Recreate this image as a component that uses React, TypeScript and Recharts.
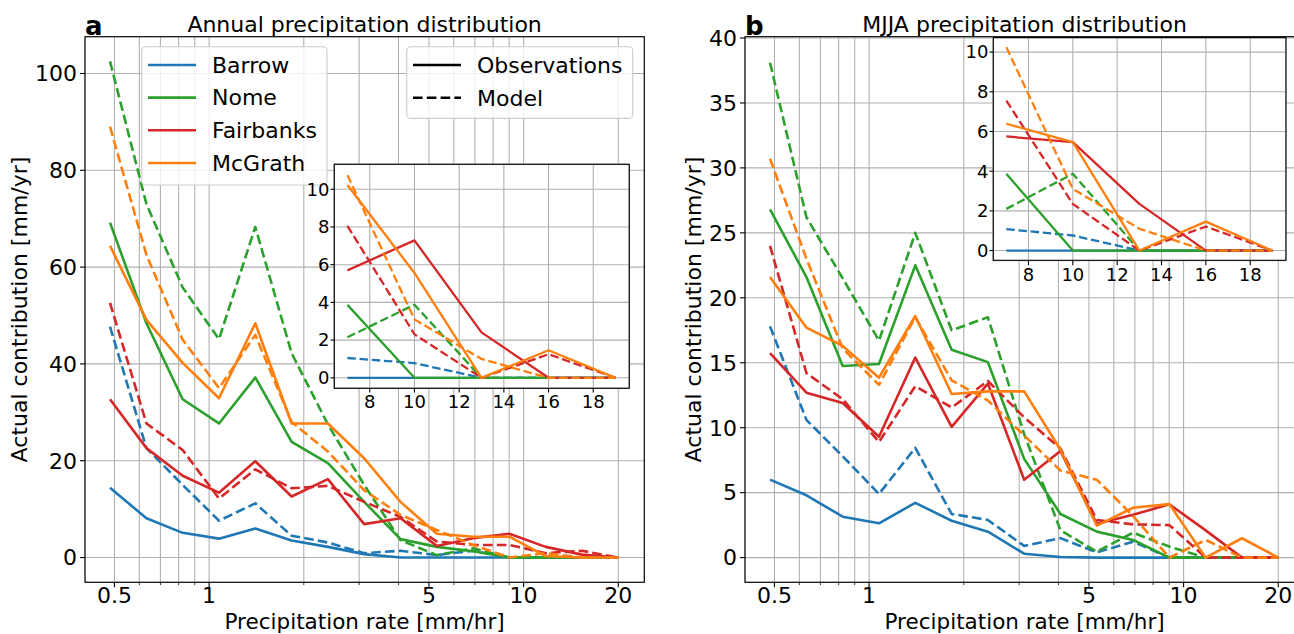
import React from 'react'
import { LineChart, Line, XAxis, YAxis, CartesianGrid } from 'recharts'

const FONT = "'DejaVu Sans', sans-serif"

// precipitation-rate bin centres [mm/hr], shared by both panels
const rates = [0.484, 0.632, 0.824, 1.075, 1.402, 1.83, 2.386, 3.112, 4.06, 5.296, 6.908, 9.011, 11.755, 15.332, 20.0]
// rates shown in the insets
const insetRates = [7, 10, 13, 16, 19]

// a: annual contribution [mm/yr]
const barrowObsA = [14.4, 8.1, 5.1, 3.9, 6.0, 3.5, 2.2, 0.7, 0, 0, 0, 0, 0, 0, 0]
const barrowModA = [47.7, 22.6, 15.0, 7.6, 11.2, 4.5, 3.1, 0.9, 1.4, 0.5, 1.4, 0, 0, 0, 0]
const nomeObsA = [69.2, 48.4, 32.7, 27.7, 37.2, 23.9, 19.5, 11.5, 3.8, 2.2, 1.3, 0, 0, 0, 0]
const nomeModA = [102.5, 73, 55.8, 45.1, 68.3, 42.2, 27.5, 15, 3.6, 0.5, 1.9, 0, 0, 0, 0]
const fairObsA = [32.7, 22.6, 16.9, 13.4, 19.9, 12.6, 16.2, 6.9, 8.1, 2.4, 4.0, 4.9, 2.2, 0.6, 0]
const fairModA = [52.6, 27.7, 22.2, 12.2, 18.2, 14.3, 14.8, 11.5, 8.4, 3.3, 2.6, 2.6, 0.9, 1.4, 0]
const mcgObsA = [64.4, 49.1, 40.2, 32.9, 48.4, 27.7, 27.7, 20.5, 11.5, 4.9, 4.3, 4.3, 0.3, 0, 0]
const mcgModA = [89.0, 62.5, 45, 35, 46, 28, 21.9, 13.9, 8.8, 5.7, 2.6, 0, 0.9, 0, 0]

// a inset
const barrowObsIA = [0, 0, 0, 0, 0]
const barrowModIA = [1.05, 0.78, 0, 0, 0]
const nomeObsIA = [3.87, 0, 0, 0, 0]
const nomeModIA = [2.15, 3.88, 0, 0, 0]
const fairObsIA = [5.7, 7.29, 2.41, 0, 0]
const fairModIA = [8.06, 2.31, 0, 1.25, 0]
const mcgObsIA = [10.23, 5.56, 0, 1.46, 0]
const mcgModIA = [10.75, 3.1, 1.0, 0, 0]

// b: MJJA contribution [mm/yr]
const barrowObsB = [6.0, 4.8, 3.15, 2.64, 4.22, 2.84, 2.0, 0.3, 0.05, 0, 0, 0, 0, 0, 0]
const barrowModB = [17.8, 10.6, 7.8, 4.9, 8.45, 3.36, 2.9, 0.9, 1.5, 0.4, 1.23, 0, 0, 0, 0]
const nomeObsB = [26.8, 21.6, 14.75, 14.9, 22.5, 16.0, 15.05, 7.6, 3.36, 2.0, 1.36, 0, 0, 0, 0]
const nomeModB = [38.1, 26.2, 21.5, 16.7, 25.0, 17.5, 18.5, 9.5, 2.1, 0.46, 1.92, 0.85, 0, 0, 0]
const fairObsB = [15.75, 12.7, 11.9, 9.3, 15.4, 10.06, 13.4, 6.0, 8.2, 2.6, 3.3, 4.1, 2.1, 0, 0]
const fairModB = [24.0, 14.2, 12.2, 8.9, 13.2, 11.55, 13.6, 10.8, 8.4, 2.9, 2.56, 2.5, 0, 0, 0]
const mcgObsB = [21.6, 17.7, 16.3, 13.85, 18.6, 12.6, 12.8, 12.8, 8.3, 2.46, 3.84, 4.12, 0, 1.49, 0]
const mcgModB = [30.7, 23, 16.1, 13.3, 18.5, 13.65, 12.1, 9.4, 6.7, 6.0, 3.2, 0, 1.36, 0, 0]

// b inset
const barrowObsIB = [0, 0, 0, 0, 0]
const barrowModIB = [1.08, 0.76, 0, 0, 0]
const nomeObsIB = [3.87, 0, 0, 0, 0]
const nomeModIB = [2.1, 3.87, 0, 0, 0]
const fairObsIB = [5.75, 5.46, 2.35, 0, 0]
const fairModIB = [7.56, 2.35, 0, 1.21, 0]
const mcgObsIB = [6.39, 5.46, 0, 1.46, 0]
const mcgModIB = [10.25, 3.11, 1.1, 0, 0]

const stations = [
  { key: 'barrow', name: 'Barrow', color: '#1f77b4' },
  { key: 'nome', name: 'Nome', color: '#2ca02c' },
  { key: 'fair', name: 'Fairbanks', color: '#d62728' },
  { key: 'mcg', name: 'McGrath', color: '#ff7f0e' },
]

const xMajor = [0.5, 1, 5, 10, 20]
const xGrid = [0.5, 0.6, 0.7, 0.8, 0.9, 1, 2, 3, 4, 5, 6, 7, 8, 9, 10, 20]
const yTicksA = [0, 20, 40, 60, 80, 100]
const yTicksB = [0, 5, 10, 15, 20, 25, 30, 35, 40]
const insetXTicks = [8, 10, 12, 14, 16, 18]
const insetYTicks = [0, 2, 4, 6, 8, 10]

const buildRows = (x: number[], s: Record<string, number[]>) =>
  x.map((v, i) => {
    const row: any = { x: v }
    Object.keys(s).forEach((k) => (row[k] = s[k][i]))
    return row
  })

const rowsA = buildRows(rates, {
  barrowObs: barrowObsA, barrowMod: barrowModA, nomeObs: nomeObsA, nomeMod: nomeModA,
  fairObs: fairObsA, fairMod: fairModA, mcgObs: mcgObsA, mcgMod: mcgModA,
})
const rowsB = buildRows(rates, {
  barrowObs: barrowObsB, barrowMod: barrowModB, nomeObs: nomeObsB, nomeMod: nomeModB,
  fairObs: fairObsB, fairMod: fairModB, mcgObs: mcgObsB, mcgMod: mcgModB,
})
const rowsIA = buildRows(insetRates, {
  barrowObs: barrowObsIA, barrowMod: barrowModIA, nomeObs: nomeObsIA, nomeMod: nomeModIA,
  fairObs: fairObsIA, fairMod: fairModIA, mcgObs: mcgObsIA, mcgMod: mcgModIA,
})
const rowsIB = buildRows(insetRates, {
  barrowObs: barrowObsIB, barrowMod: barrowModIB, nomeObs: nomeObsIB, nomeMod: nomeModIB,
  fairObs: fairObsIB, fairMod: fairModIB, mcgObs: mcgObsIB, mcgMod: mcgModIB,
})

const renderLines = (width: number, dash: string) =>
  stations.flatMap((s) => [
    <Line key={s.key + 'Obs'} dataKey={s.key + 'Obs'} stroke={s.color} strokeWidth={width}
      dot={false} activeDot={false} isAnimationActive={false} strokeLinejoin="round" />,
    <Line key={s.key + 'Mod'} dataKey={s.key + 'Mod'} stroke={s.color} strokeWidth={width}
      strokeDasharray={dash} dot={false} activeDot={false} isAnimationActive={false} strokeLinejoin="round" />,
  ])

// log axis tick: long tick + label for majors, short tick only for minors
const LogTick = (props: any) => {
  const { x, y, payload } = props
  const major = xMajor.includes(payload.value)
  const y0 = y - 6
  return (
    <g>
      <line x1={x} x2={x} y1={y0} y2={y0 + (major ? 5 : 2.8)} stroke="#000" strokeWidth={major ? 1.1 : 0.8} />
      {major && (
        <text x={x} y={y} dy="0.66em" textAnchor="middle" fill="#000" fontSize={22} fontFamily={FONT}>
          {payload.value}
        </text>
      )}
    </g>
  )
}

function MainPanel({ left, rows, yDomain, yTicks }: any) {
  return (
    <div style={{ position: 'absolute', left, top: 0 }}>
      <LineChart width={660} height={634} data={rows} margin={{ top: 36.7, right: 15.7, bottom: 0, left: 0 }}>
        <CartesianGrid stroke="#b0b0b0" strokeWidth={1.1} />
        <XAxis dataKey="x" type="number" scale="log" domain={[0.403, 24.2]} allowDataOverflow
          ticks={xGrid} interval={0} tickLine={false} axisLine={false} tickSize={5} tickMargin={1}
          height={51.7} tick={(p: any) => <LogTick {...p} />} />
        <YAxis type="number" domain={yDomain} allowDataOverflow ticks={yTicks} interval={0} width={85}
          tickSize={5} tickMargin={3} axisLine={false} tickLine={{ stroke: '#000', strokeWidth: 1.1 }}
          tick={{ fill: '#000', fontSize: 22, fontFamily: FONT }} />
        {renderLines(2.6, '9.6 4.2')}
      </LineChart>
    </div>
  )
}

function InsetPanel({ left, top, w, h, rows, yDomain }: any) {
  return (
    <div style={{ position: 'absolute', left: left - 40, top: top - 10 }}>
      <LineChart width={40 + w + 5} height={10 + h + 35} data={rows} margin={{ top: 10, right: 5, bottom: 0, left: 0 }}>
        <CartesianGrid stroke="#b0b0b0" strokeWidth={1.1} fill="#ffffff" fillOpacity={1} />
        <XAxis dataKey="x" type="number" domain={[6.4, 19.6]} allowDataOverflow ticks={insetXTicks} interval={0}
          height={35} tickSize={4.5} tickMargin={3} axisLine={false} tickLine={{ stroke: '#000', strokeWidth: 1.1 }}
          tick={{ fill: '#000', fontSize: 18, fontFamily: FONT }} />
        <YAxis type="number" domain={yDomain} allowDataOverflow ticks={insetYTicks} interval={0} width={40}
          tickSize={3.5} tickMargin={1} axisLine={false} tickLine={{ stroke: '#000', strokeWidth: 1.1 }}
          tick={{ fill: '#000', fontSize: 18, fontFamily: FONT }} />
        {renderLines(2.3, '8.5 3.7')}
      </LineChart>
    </div>
  )
}

const PANEL_W = 559.3
const PANEL_H = 545.6
const PANEL_TOP = 36.7
const insetA = { left: 334.3, top: 164.3, w: 295, h: 224 }
const insetB = { left: 993.3, top: 37.6, w: 292.7, h: 222.7 }

function Overlay() {
  const txt = { fontFamily: FONT, fill: '#000' }
  return (
    <svg width={1294} height={634} style={{ position: 'absolute', left: 0, top: 0, pointerEvents: 'none' }}>
      <rect x={85} y={PANEL_TOP} width={PANEL_W} height={PANEL_H} fill="none" stroke="#000" strokeWidth={1.1} />
      <rect x={745} y={PANEL_TOP} width={PANEL_W} height={PANEL_H} fill="none" stroke="#000" strokeWidth={1.1} />

      <text x={85} y={35} fontSize={26} fontWeight="bold" {...txt}>a</text>
      <text x={745} y={35} fontSize={26} fontWeight="bold" {...txt}>b</text>
      <text x={364.6} y={31.5} fontSize={22} textAnchor="middle" {...txt}>Annual precipitation distribution</text>
      <text x={1024.6} y={31.5} fontSize={22} textAnchor="middle" {...txt}>MJJA precipitation distribution</text>

      <text x={364.6} y={628.5} fontSize={21.5} textAnchor="middle" {...txt}>Precipitation rate [mm/hr]</text>
      <text x={1024.6} y={628.5} fontSize={21.5} textAnchor="middle" {...txt}>Precipitation rate [mm/hr]</text>
      <text transform="translate(27,309.5) rotate(-90)" fontSize={22} textAnchor="middle" {...txt}>Actual contribution [mm/yr]</text>
      <text transform="translate(701,309.5) rotate(-90)" fontSize={22} textAnchor="middle" {...txt}>Actual contribution [mm/yr]</text>

      {/* station legend */}
      <rect x={141.7} y={46.7} width={185.3} height={138.3} rx={4} fill="#fff" fillOpacity={0.8} stroke="#cccccc" strokeWidth={1.1} />
      {stations.map((s, i) => {
        const y = 65 + i * 32.65
        return (
          <g key={s.key}>
            <line x1={148} x2={196} y1={y} y2={y} stroke={s.color} strokeWidth={2.6} />
            <text x={212} y={y + 7.8} fontSize={22} {...txt}>{s.name}</text>
          </g>
        )
      })}

      {/* line-style legend */}
      <rect x={406.7} y={46.7} width={226} height={71.7} rx={4} fill="#fff" fillOpacity={0.8} stroke="#cccccc" strokeWidth={1.1} />
      <line x1={413} x2={461} y1={65} y2={65} stroke="#000" strokeWidth={2.6} />
      <text x={477} y={72.8} fontSize={22} {...txt}>Observations</text>
      <line x1={413} x2={461} y1={97.7} y2={97.7} stroke="#000" strokeWidth={2.6} strokeDasharray="9.6 4.2" />
      <text x={477} y={105.5} fontSize={22} {...txt}>Model</text>
    </svg>
  )
}

function InsetFrames() {
  return (
    <svg width={1294} height={634} style={{ position: 'absolute', left: 0, top: 0, pointerEvents: 'none' }}>
      <rect x={insetA.left} y={insetA.top} width={insetA.w} height={insetA.h} fill="none" stroke="#000" strokeWidth={1.1} />
      <rect x={insetB.left} y={insetB.top} width={insetB.w} height={insetB.h} fill="none" stroke="#000" strokeWidth={1.1} />
    </svg>
  )
}

export default function App() {
  return (
    <div style={{ position: 'absolute', left: 0, top: 0, width: 1294, height: 634, overflow: 'hidden', background: '#fff' }}>
      <MainPanel left={0} rows={rowsA} yDomain={[-5.12, 107.6]} yTicks={yTicksA} />
      <MainPanel left={660} rows={rowsB} yDomain={[-1.9, 40.1]} yTicks={yTicksB} />
      <Overlay />
      <InsetPanel {...insetA} rows={rowsIA} yDomain={[-0.54, 11.34]} />
      <InsetPanel {...insetB} rows={rowsIB} yDomain={[-0.51, 10.71]} />
      <InsetFrames />
    </div>
  )
}
